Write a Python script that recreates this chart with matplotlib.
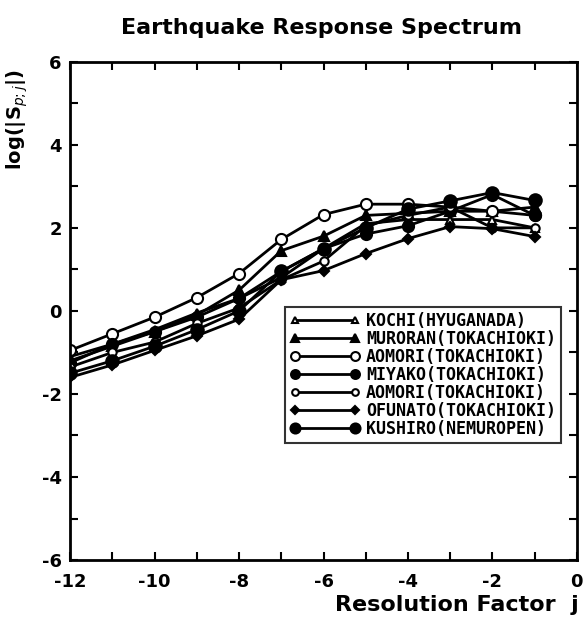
import numpy as np
import matplotlib.pyplot as plt

plt.rcParams["axes.unicode_minus"] = False

# resolution factor j
j = [-12, -11, -10, -9, -8, -7, -6, -5, -4, -3, -2, -1]

# log|S_p;j|
kochi = [-1.10, -0.80, -0.45, -0.05, 0.30, 0.80, 1.50, 2.10, 2.20, 2.20, 2.20, 2.00]
muroran = [-1.20, -0.85, -0.50, -0.10, 0.50, 1.45, 1.80, 2.30, 2.35, 2.40, 2.40, 2.50]
aomori1 = [-0.95, -0.55, -0.15, 0.32, 0.90, 1.72, 2.32, 2.57, 2.57, 2.50, 2.40, 2.30]
miyako = [-1.25, -0.80, -0.50, -0.15, 0.30, 0.95, 1.50, 1.85, 2.05, 2.40, 2.80, 2.30]
aomori2 = [-1.35, -1.00, -0.75, -0.30, 0.07, 0.75, 1.20, 2.05, 2.30, 2.50, 2.00, 2.00]
ofunato = [-1.60, -1.30, -0.95, -0.60, -0.20, 0.75, 0.97, 1.38, 1.74, 2.03, 1.98, 1.79]
kushiro = [-1.50, -1.20, -0.85, -0.45, 0.00, 0.95, 1.50, 2.00, 2.45, 2.65, 2.85, 2.66]

labels = ["KOCHI(HYUGANADA)", "MURORAN(TOKACHIOKI)", "AOMORI(TOKACHIOKI)",
          "MIYAKO(TOKACHIOKI)", "AOMORI(TOKACHIOKI)", "OFUNATO(TOKACHIOKI)",
          "KUSHIRO(NEMUROPEN)"]
series = [kochi, muroran, aomori1, miyako, aomori2, ofunato, kushiro]
styles = [("^", "white", 6), ("^", "black", 7), ("o", "white", 8), ("o", "black", 8),
          ("o", "white", 6), ("D", "black", 5), ("o", "black", 9)]

fig = plt.figure(figsize=(5.85, 6.3), dpi=100)
ax = fig.add_axes([0.12, 0.111, 0.866, 0.791])

for y, lab, (m, fc, ms) in zip(series, labels, styles):
    ax.plot(j, y, color="black", lw=2, marker=m, markerfacecolor=fc,
            markeredgecolor="black", markeredgewidth=1.5, markersize=ms, label=lab)

ax.set_xlim(-12, 0)
ax.set_ylim(-6, 6)
ax.set_xticks(range(-12, 1, 2))
ax.set_yticks(range(-6, 7, 2))
ax.set_xticks(range(-12, 1), minor=True)
ax.set_yticks(range(-6, 7), minor=True)
ax.tick_params(which="both", direction="in", top=True, right=True, width=1.5)
ax.tick_params(which="major", length=6, labelsize=13)
ax.tick_params(which="minor", length=6)
ax.tick_params(axis="x", which="major", pad=9)
ax.tick_params(axis="y", which="major", pad=6)
for t in ax.get_xticklabels() + ax.get_yticklabels():
    t.set_fontweight("bold")
for s in ax.spines.values():
    s.set_linewidth(2)

leg = ax.legend(loc="upper left", bbox_to_anchor=(0.424, 0.508), frameon=True,
                fancybox=False, edgecolor="black", handlelength=4.2, numpoints=2,
                handletextpad=0.35, labelspacing=0.0, borderpad=0.3,
                borderaxespad=0.0, markerscale=0.8,
                prop={"family": "DejaVu Sans Mono", "weight": "bold", "size": 12})
leg.get_frame().set_linewidth(1.5)

fig.text(0.55, 0.955, "Earthquake Response Spectrum", ha="center", va="center",
         fontsize=16, fontweight="bold")
fig.text(0.03, 0.81, r"log(|S$_{p;j}$|)", rotation=90, ha="center", va="center",
         fontsize=14, fontweight="bold")
fig.text(0.99, 0.04, "Resolution Factor  j", ha="right", va="center",
         fontsize=16, fontweight="bold")

fig.savefig("out.png", dpi=100)
